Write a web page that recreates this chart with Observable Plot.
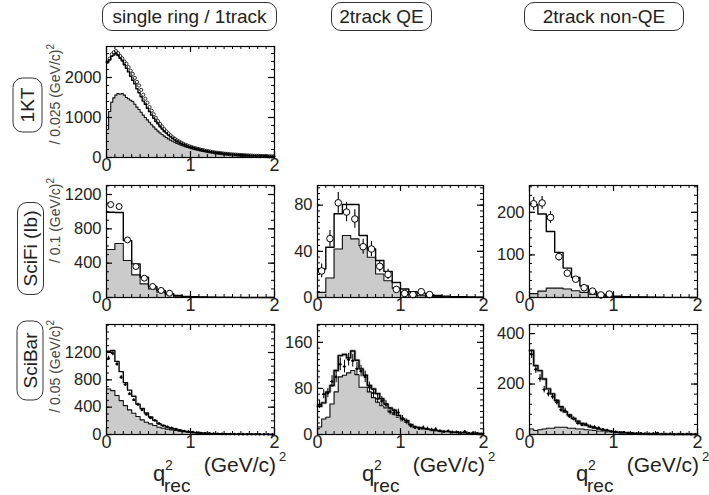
<!DOCTYPE html>
<html>
<head>
<meta charset="utf-8">
<script src="https://cdn.jsdelivr.net/npm/d3@7"></script>
<script src="https://cdn.jsdelivr.net/npm/@observablehq/plot@0.6"></script>
<style>
  body { margin: 0; background: #fff; }
  #chart { position: relative; width: 709px; height: 495px; overflow: hidden; background: #fff;
           font-family: "Liberation Sans", Arial, Helvetica, sans-serif; color: #222; }
  .hdr { position: absolute; box-sizing: border-box; border: 1.2px solid #333; border-radius: 10px;
         display: flex; align-items: center; justify-content: center; font-size: 19px; white-space: nowrap; }
  .rowlab { position: absolute; box-sizing: border-box; border: 1.2px solid #333; border-radius: 10px;
            display: flex; align-items: center; justify-content: center; font-size: 19px; white-space: nowrap;
            transform: rotate(-90deg); }
  #chart svg { position: absolute; }
</style>
</head>
<body>
<div id="chart"></div>
<script>
// ---------------- labels ----------------
const columns = ["single ring / 1track", "2track QE", "2track non-QE"];
const rows = ["1KT", "SciFi (Ib)", "SciBar"];
const binWidthLabels = ["0.025", "0.1", "0.05"];
const xTickValues = [0, 1, 2];

// ---------------- 1KT, single ring (bin 0.025) ----------------
const kt1Total = [2380, 2440, 2530, 2560, 2600, 2550, 2480, 2420, 2320, 2230, 2140, 2030, 1930, 1840, 1720, 1620, 1520, 1410, 1330, 1230,
  1150, 1060, 980, 900, 840, 770, 710, 650, 610, 560, 515, 480, 440, 405, 385, 350, 330, 312, 290, 270,
  255, 242, 226, 212, 200, 190, 176, 167, 158, 148, 140, 131, 124, 118, 111, 104, 99, 94, 89, 84,
  80, 76, 72, 69, 65, 62, 58, 56, 53, 50, 48, 46, 44, 42, 40, 38, 36, 34, 32, 30];
const kt1QE = [700, 1150, 1380, 1490, 1560, 1600, 1580, 1600, 1560, 1500, 1470, 1430, 1400, 1330, 1260, 1200, 1130, 1060, 1000, 940,
  880, 820, 765, 710, 660, 615, 575, 535, 500, 465, 435, 405, 380, 352, 330, 308, 288, 270, 253, 237,
  222, 208, 195, 183, 172, 161, 151, 142, 133, 125, 117, 110, 103, 97, 91, 86, 81, 76, 72, 68,
  64, 60, 57, 54, 51, 48, 45, 43, 41, 39, 37, 35, 33, 31, 30, 28, 27, 26, 24, 23];
const kt1Data = [2390, 2470, 2580, 2630, 2660, 2610, 2540, 2480, 2400, 2340, 2260, 2170, 2090, 1990, 1890, 1800, 1690, 1570, 1470, 1370,
  1260, 1170, 1080, 990, 910, 840, 775, 710, 650, 600, 550, 505, 470, 430, 400, 372, 345, 320, 300, 280,
  262, 245, 230, 215, 202, 190, 178, 167, 156, 146, 137, 129, 121, 114, 107, 101, 95, 90, 85, 80,
  76, 72, 68, 64, 61, 58, 55, 52, 49, 47, 44, 42, 40, 38, 36, 34, 33, 31, 30, 28];
const kt1YTicks = [0, 1000, 2000];

// ---------------- SciFi (bin 0.1) ----------------
const sf1Total = [994, 990, 663, 392, 237, 128, 82, 43, 23, 12, 8, 5, 3, 2, 1.5, 1, 0.8, 0.5, 0.3, 0.2];
const sf1QE = [559, 629, 431, 264, 159, 101, 62, 35, 15, 8, 5, 3, 2, 1.5, 1, 0.8, 0.5, 0.3, 0.2, 0.1];
const sf1Data = [1083, 1060, 671, 361, 225, 128, 82, 50];
const sf1YTicks = [0, 400, 800, 1200];

const sf2Total = [24.7, 43.5, 72.5, 80.6, 80.6, 53.7, 42, 32, 22.6, 13, 7.3, 5, 3.8, 2.5, 1.8, 1.2, 0.8, 0.6, 0.4, 0.3];
const sf2QE = [4.4, 16.9, 42, 53.7, 50.8, 45, 34.8, 20.3, 14.5, 8.1, 4.4, 2.9, 1.5, 1, 0.8, 0.5, 0.3, 0.2, 0.1, 0.1];
const sf2Data = [23, 51, 82, 74, 68, 44, 42, 27, 20, 7, 3.5, 2.5, 5, 2.5];
const sf2Err = [6, 7, 9, 8.5, 8, 6.5, 6.5, 5, 4.5, 2.5, 2, 1.5, 2, 1.5];
const sf2YTicks = [0, 40, 80];

const sf3Total = [218, 196, 155, 106, 69, 47, 27, 14, 8, 5, 3, 2, 1.5, 1, 0.8, 0.6, 0.4, 0.3, 0.2, 0.1];
const sf3QE = [9, 15, 22, 22, 20, 16, 12, 8, 4, 2, 1, 0.6, 0.4, 0.3, 0.2, 0.1, 0.1, 0, 0, 0];
const sf3Data = [220, 222, 188, 96, 57, 43, 23, 15, 6, 8];
const sf3Err = [15, 15, 14, 10, 7.5, 6.5, 5, 4, 2.5, 3];
const sf3YTicks = [0, 100, 200];

// ---------------- SciBar (bin 0.05) ----------------
const sb1Total = [1218, 1230, 1070, 920, 760, 650, 560, 445, 380, 315, 257, 207, 158, 133, 108, 93, 79, 64, 50, 40,
  32, 27, 22, 18, 15, 13, 11, 9, 8, 7, 6, 5, 4, 4, 3, 3, 2, 2, 2, 1];
const sb1QE = [667, 642, 570, 496, 423, 360, 311, 263, 214, 180, 156, 131, 107, 92, 78, 68, 58, 48, 40, 33,
  27, 22, 18, 15, 12, 10, 9, 7, 6, 5, 4, 4, 3, 3, 2, 2, 2, 1, 1, 1];
const sb1Data = [1114, 1187, 1032, 837, 730, 594, 506, 438, 360, 292, 243, 204, 160, 128, 112, 95, 80, 62, 52, 43,
  35, 28, 22, 18, 16, 13, 11, 9, 8, 7, 6, 5, 5, 4, 3, 3, 2, 2, 2, 1];
const sb1Err = [33, 34, 32, 29, 27, 24, 22, 21, 19, 17, 16, 14, 13, 11, 11, 10, 9, 8, 7, 7,
  6, 5, 5, 4, 4, 4, 3, 3, 3, 3, 2, 2, 2, 2, 2, 2, 1, 1, 1, 1];
const sb1YTicks = [0, 400, 800, 1200];

const sb2Total = [49, 55, 74, 85, 111, 137, 139, 133, 145, 129, 114, 103, 85, 79, 71, 62, 53, 46, 42, 33,
  27, 24, 17, 13, 12, 10, 9, 8, 7, 6, 5, 5, 4, 4, 3, 3, 2, 2, 2, 1];
const sb2QE = [13, 27, 30, 53, 74, 100, 103, 107, 111, 104, 82, 82, 74, 64, 56, 50, 46, 39, 35, 30,
  24, 21, 17, 14, 12, 10, 9, 8, 7, 6, 5, 5, 4, 3, 3, 3, 2, 2, 1, 1];
const sb2Data = [52, 70, 72, 92, 100, 122, 118, 130, 128, 114, 110, 100, 82, 72, 62, 58, 52, 40, 38, 38,
  28, 22, 15, 12, 10, 12, 10, 8, 9, 6, 5, 6, 4, 4, 3, 5, 2, 3, 2, 1];
const sb2Err = [7, 8, 8, 10, 10, 11, 11, 11, 11, 11, 10, 10, 9, 8, 8, 8, 7, 6, 6, 6,
  5, 5, 4, 3, 3, 3, 3, 3, 3, 2, 2, 2, 2, 2, 2, 2, 1, 2, 1, 1];
const sb2YTicks = [0, 80, 160];

const sb3Total = [333, 273, 253, 220, 181, 161, 135, 110, 90, 77, 64, 53, 44, 37, 31, 26, 22, 18, 15, 12,
  10, 8, 7, 6, 5, 4, 3, 3, 2, 2, 2, 1, 1, 1, 1, 1, 1, 0.5, 0.5, 0.5];
const sb3QE = [22, 16, 19, 22, 25, 25, 29, 29, 29, 25, 25, 22, 22, 19, 18, 16, 14, 12, 10, 8,
  6, 5, 4, 3, 3, 2, 2, 2, 1, 1, 1, 1, 1, 0.5, 0.5, 0.5, 0.5, 0.5, 0.5, 0.5];
const sb3Data = [318, 258, 222, 178, 162, 150, 128, 98, 94, 72, 62, 45, 38, 40, 32, 30, 26, 20, 17, 12,
  10, 8, 9, 6, 5, 4, 5, 3, 3, 4, 6, 2, 2, 3, 1, 2, 1, 2, 1, 1];
const sb3Err = [17, 16, 15, 13, 13, 12, 11, 10, 10, 8, 8, 7, 6, 6, 6, 5, 5, 4, 4, 3,
  3, 3, 3, 2, 2, 2, 2, 2, 2, 2, 2, 1, 1, 2, 1, 1, 1, 1, 1, 1];
const sb3YTicks = [0, 200, 400];

// ---------------- layout ----------------
const colX = [[106, 274], [317, 483], [529, 697]];
const rowY = [[46, 157], [185, 297], [324, 434]];

const panels = [
  {row: 0, col: 0, w: 0.025, total: kt1Total, qe: kt1QE, data: kt1Data, err: null, ymax: 2775, yticks: kt1YTicks, yminor: 200, style: "ringsmall"},
  {row: 1, col: 0, w: 0.1, total: sf1Total, qe: sf1QE, data: sf1Data, err: null, ymax: 1305, yticks: sf1YTicks, yminor: 100, style: "ring"},
  {row: 1, col: 1, w: 0.1, total: sf2Total, qe: sf2QE, data: sf2Data, err: sf2Err, ymax: 97, yticks: sf2YTicks, yminor: 5, style: "ringerr"},
  {row: 1, col: 2, w: 0.1, total: sf3Total, qe: sf3QE, data: sf3Data, err: sf3Err, ymax: 263, yticks: sf3YTicks, yminor: 20, style: "ringerr"},
  {row: 2, col: 0, w: 0.05, total: sb1Total, qe: sb1QE, data: sb1Data, err: sb1Err, ymax: 1610, yticks: sb1YTicks, yminor: 100, style: "cross"},
  {row: 2, col: 1, w: 0.05, total: sb2Total, qe: sb2QE, data: sb2Data, err: sb2Err, ymax: 191, yticks: sb2YTicks, yminor: 10, style: "cross", band: true},
  {row: 2, col: 2, w: 0.05, total: sb3Total, qe: sb3QE, data: sb3Data, err: sb3Err, ymax: 436, yticks: sb3YTicks, yminor: 40, style: "cross", band: true}
];

const chart = document.getElementById("chart");
const FONT = '"Liberation Sans", Arial, Helvetica, sans-serif';

function hist(vals, w) {
  const pts = vals.map((v, i) => ({x: i * w, v}));
  pts.push({x: vals.length * w, v: vals[vals.length - 1]});
  return pts;
}
function points(vals, w, err) {
  return vals.map((v, i) => ({x: (i + 0.5) * w, lo: i * w, hi: (i + 1) * w, v, e: err ? err[i] : 0}));
}

const ml = 62, mr = 10, mt = 8, mb = 28;

for (const p of panels) {
  const [L, R] = colX[p.col];
  const [T, B] = rowY[p.row];
  const W = R - L, H = B - T;
  const xMinor = d3.range(0, 2.0001, 0.1);
  const yMinor = d3.range(0, p.ymax, p.yminor);
  const h = hist(p.total, p.w), q = hist(p.qe, p.w);
  const pts = points(p.data, p.w, p.err);
  const marks = [
    Plot.areaY(q, {x: "x", y: "v", curve: "step-after", fill: "#cbcbcb"}),
    Plot.lineY(q, {x: "x", y: "v", curve: "step-after", stroke: "#111", strokeWidth: 1.1})
  ];
  if (p.band) marks.push(Plot.lineY(h, {x: "x", y: "v", curve: "step-after", stroke: "#b4b4b4", strokeWidth: 3}));
  marks.push(Plot.lineY(h, {x: "x", y: "v", curve: "step-after", stroke: "#000", strokeWidth: 1.4}));
  if (p.style === "cross") {
    marks.push(Plot.ruleX(pts, {x: "x", y1: d => Math.max(0, d.v - d.e), y2: d => d.v + d.e, stroke: "#000", strokeWidth: 1}));
    marks.push(Plot.ruleY(pts, {y: "v", x1: d => d.x - 0.015, x2: d => d.x + 0.015, stroke: "#000", strokeWidth: 1}));
    marks.push(Plot.dot(pts, {x: "x", y: "v", r: 1.3, fill: "#000"}));
  } else if (p.style === "ringerr") {
    marks.push(Plot.ruleX(pts, {x: "x", y1: d => Math.max(0, d.v - d.e), y2: d => d.v + d.e, stroke: "#000", strokeWidth: 1.1}));
    marks.push(Plot.dot(pts, {x: "x", y: "v", r: 3.3, fill: "#fff", stroke: "#000", strokeWidth: 1}));
  } else if (p.style === "ring") {
    marks.push(Plot.dot(pts, {x: "x", y: "v", r: 3, fill: "#fff", stroke: "#000", strokeWidth: 1}));
  } else {
    marks.push(Plot.dot(pts, {x: "x", y: "v", r: 1.6, fill: "none", stroke: "#000", strokeWidth: 0.8}));
  }
  marks.push(
    Plot.frame({stroke: "#000", strokeWidth: 1.2}),
    // inward ticks, all four sides
    Plot.ruleX(xMinor, {x: d => d, insetTop: H - 3, stroke: "#000"}),
    Plot.ruleX(xMinor, {x: d => d, insetBottom: H - 3, stroke: "#000"}),
    Plot.ruleX(xTickValues, {x: d => d, insetTop: H - 6, stroke: "#000", strokeWidth: 1.2}),
    Plot.ruleX(xTickValues, {x: d => d, insetBottom: H - 6, stroke: "#000", strokeWidth: 1.2}),
    Plot.ruleY(yMinor, {y: d => d, insetRight: W - 3, stroke: "#000"}),
    Plot.ruleY(yMinor, {y: d => d, insetLeft: W - 3, stroke: "#000"}),
    Plot.ruleY(p.yticks, {y: d => d, insetRight: W - 6, stroke: "#000", strokeWidth: 1.2}),
    Plot.ruleY(p.yticks, {y: d => d, insetLeft: W - 6, stroke: "#000", strokeWidth: 1.2}),
    Plot.axisX({ticks: xTickValues, tickSize: 0, tickPadding: 1, fontSize: 18, label: null, tickFormat: d => String(d)}),
    Plot.axisY({ticks: p.yticks, tickSize: 0, tickPadding: 5, fontSize: 16.5, label: null, tickFormat: d => String(d)})
  );
  const svg = Plot.plot({
    width: W + ml + mr, height: H + mt + mb,
    marginLeft: ml, marginRight: mr, marginTop: mt, marginBottom: mb,
    x: {domain: [0, 2]},
    y: {domain: [0, p.ymax]},
    style: {background: "transparent", overflow: "visible", fontFamily: FONT, color: "#222"},
    marks
  });
  svg.style.left = (L - ml) + "px";
  svg.style.top = (T - mt) + "px";
  chart.appendChild(svg);
}

// column headers
const hdrBoxes = [[102, 175], [331, 101], [524, 160]];
columns.forEach((c, i) => {
  const d = document.createElement("div");
  d.className = "hdr";
  d.textContent = c;
  d.style.left = hdrBoxes[i][0] + "px";
  d.style.top = "2px";
  d.style.width = hdrBoxes[i][1] + "px";
  d.style.height = "29px";
  chart.appendChild(d);
});

// row labels (rotated boxes): center x, center y, vertical length, thickness
const rowBoxes = [[27, 105, 55, 30], [30, 248, 93, 27], [30, 360, 80, 27]];
rows.forEach((r, i) => {
  const [cx, cy, len, th] = rowBoxes[i];
  const d = document.createElement("div");
  d.className = "rowlab";
  d.textContent = r;
  d.style.width = len + "px";
  d.style.height = th + "px";
  d.style.left = (cx - len / 2) + "px";
  d.style.top = (cy - th / 2) + "px";
  chart.appendChild(d);
});

// overlay svg for unit labels and x titles
const ns = "http://www.w3.org/2000/svg";
const ov = document.createElementNS(ns, "svg");
ov.setAttribute("width", 709); ov.setAttribute("height", 495);
ov.style.left = "0px"; ov.style.top = "0px"; ov.style.fontFamily = FONT;
chart.appendChild(ov);

function addText(parent, x, y, parts, attrs) {
  const t = document.createElementNS(ns, "text");
  t.setAttribute("x", x); t.setAttribute("y", y);
  for (const k in attrs) t.setAttribute(k, attrs[k]);
  for (const [s, a] of parts) {
    const ts = document.createElementNS(ns, "tspan");
    ts.textContent = s;
    for (const k in a) ts.setAttribute(k, a[k]);
    t.appendChild(ts);
  }
  parent.appendChild(t);
  return t;
}

const unitEnds = [44, 178, 320];
binWidthLabels.forEach((b, i) => {
  const g = document.createElementNS(ns, "g");
  g.setAttribute("transform", `translate(60,${unitEnds[i]}) rotate(-90)`);
  ov.appendChild(g);
  addText(g, 0, 0, [["/ " + b + " (GeV/c)", {}], ["2", {dy: -6, "font-size": 10}]],
    {"text-anchor": "end", "font-size": 14, fill: "#444"});
});

colX.forEach(([L, R]) => {
  addText(ov, R + 2, 472, [["(GeV/c)", {}]], {"text-anchor": "end", "font-size": 21, fill: "#222"});
  addText(ov, R + 5, 461, [["2", {}]], {"font-size": 13, fill: "#222"});
  addText(ov, R - 121, 481, [["q", {}]], {"font-size": 22, fill: "#222"});
  addText(ov, R - 109, 470, [["2", {}]], {"font-size": 14, fill: "#222"});
  addText(ov, R - 110, 492, [["rec", {}]], {"font-size": 19, fill: "#222"});
});
</script>
</body>
</html>
